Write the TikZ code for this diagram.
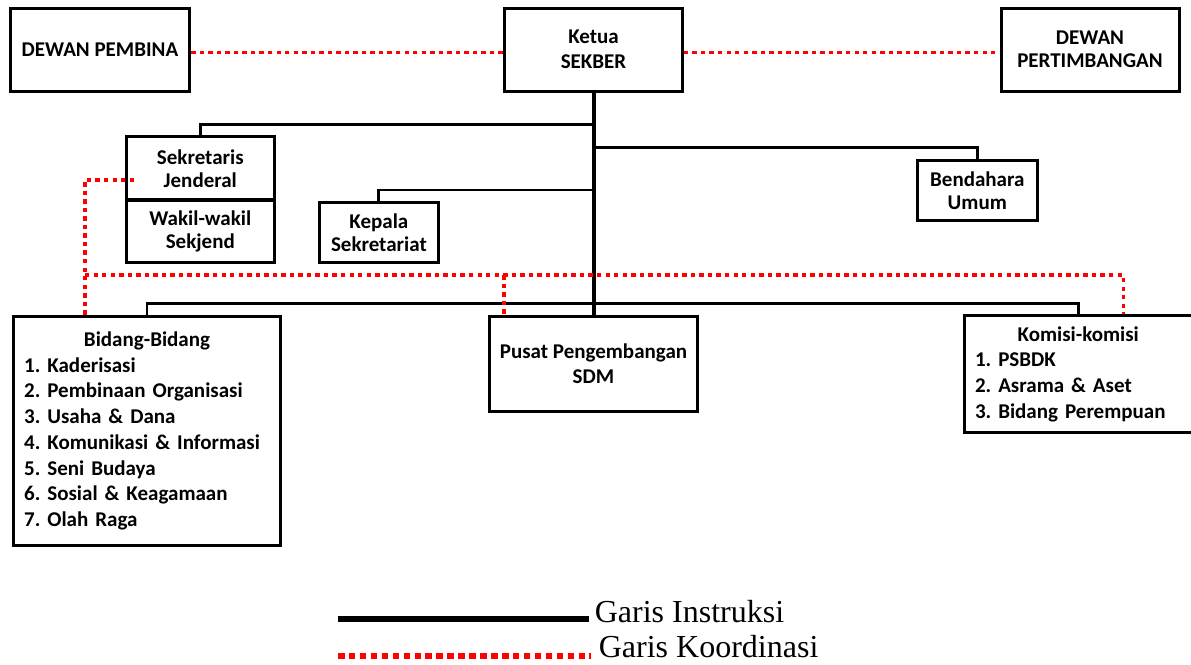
\documentclass[tikz,border=0pt]{standalone}
\usepackage{fontspec}
\setmainfont{Carlito}
\newfontfamily\legendfont{Liberation Serif}
\usepackage{tikz}
\usetikzlibrary{calc,positioning}
\frenchspacing

\begin{document}
\begin{tikzpicture}[x=0.75pt,y=-0.75pt]
  \tikzset{
    box/.style={draw,line width=2.25pt,inner sep=8pt,align=center,
      font=\bfseries\fontsize{15.75}{17.25}\selectfont},
    wide/.style={font=\bfseries\fontsize{15.75}{18.75}\selectfont},
    listbox/.style={box,align=left,font=\bfseries\fontsize{15.75}{19.3}\selectfont},
    instr/.style={line width=2.2pt},
    trunk/.style={line width=3pt},
    koord/.style={red,line width=2.6pt,dash pattern=on 3.3pt off 3.1pt},
    legend/.style={inner sep=0pt,anchor=base west,font=\legendfont\fontsize{24}{24}\selectfont}
  }
  \useasboundingbox (0,0) rectangle (1191,664);

  % top row
  \node[box,minimum width=134.5pt,minimum height=62pt] (pembina) at (100,49.7) {DEWAN PEMBINA};
  \node[box,wide,minimum width=133.3pt,minimum height=62pt] (ketua) at (593.5,49.7) {Ketua\\SEKBER};
  \node[box,minimum width=133.5pt,minimum height=62pt] (pertimbangan) at (1090,49.7) {DEWAN\\PERTIMBANGAN};

  % staff
  \node[box,minimum width=110.9pt,minimum height=47.5pt] (sekjen) at (200.3,168.3) {Sekretaris\\Jenderal};
  \node[box,minimum width=110.9pt,minimum height=47pt] (wakil) at (200.3,231.5) {Wakil-wakil\\Sekjend};
  \node[box,minimum width=89.8pt,minimum height=45.3pt] (kepala) at (378.9,232.5) {Kepala\\Sekretariat};
  \node[box,minimum width=89.6pt,minimum height=45.2pt] (bendahara) at (977.3,190.8) {Bendahara\\Umum};

  % bottom row
  \node[listbox,text width=184.3pt,minimum height=172.3pt] (bidang) at (147,430.9)
    {\makebox[\linewidth]{Bidang-Bidang}\\1. Kaderisasi\\2. Pembinaan Organisasi\\3. Usaha \& Dana\\
     4. Komunikasi \& Informasi\\5. Seni Budaya\\6. Sosial \& Keagamaan\\7. Olah Raga};
  \node[box,wide,minimum width=155.7pt,minimum height=71.8pt] (pusat) at (593.5,363.9) {Pusat Pengembangan\\SDM};
  \node[listbox,text width=154.8pt,minimum height=87.2pt] (komisi) at (1078.2,374.2)
    {\makebox[\linewidth]{Komisi-komisi}\\1. PSBDK\\2. Asrama \& Aset\\3. Bidang Perempuan};

  % instruksi
  \coordinate (j1) at (593.5,124.3);
  \coordinate (j2) at (593.5,147.7);
  \coordinate (j3) at (593.5,190);
  \coordinate (j4) at (593.5,303.3);
  \draw[trunk] (ketua.south) -- (pusat.north);
  \draw[instr] (j1) -| (sekjen.north);
  \draw[instr] (j2) -| (bendahara.north);
  \draw[instr] (j3) -| (kepala.north);
  \draw[instr] (j4) -| (bidang.north);
  \draw[instr] (j4) -| (komisi.north);

  % koordinasi
  \coordinate (sjk) at (134,180);
  \coordinate (kL) at (85,275.2);
  \coordinate (kM) at (503.8,275.2);
  \coordinate (kR) at (1123.3,275.2);
  \draw[koord] ([yshift=-2.25pt]pembina.east) -- ([yshift=-2.25pt]ketua.west);
  \draw[koord] ([yshift=-2.25pt]ketua.east) -- ([yshift=-2.25pt]pertimbangan.west);
  \draw[koord] (sjk) -| (kL |- bidang.north);
  \draw[koord] (kL) -- (kR) -- (kR |- komisi.north);
  \draw[koord] (kM) -- (kM |- pusat.north);

  % legend
  \node[legend] (linstr) at (594.6,622.7) {Garis Instruksi};
  \node[legend] (lkoord) at (598.6,657.5) {Garis Koordinasi};
  \coordinate (li) at (338,619);
  \coordinate (lk) at (338,656);
  \draw[line width=5pt] (li) -- ([xshift=-4.5pt]linstr.west |- li);
  \draw[red,line width=5pt,dash pattern=on 4.9pt off 3.3pt] (lk) -- ([xshift=-6pt]lkoord.west |- lk);
\end{tikzpicture}
\end{document}
